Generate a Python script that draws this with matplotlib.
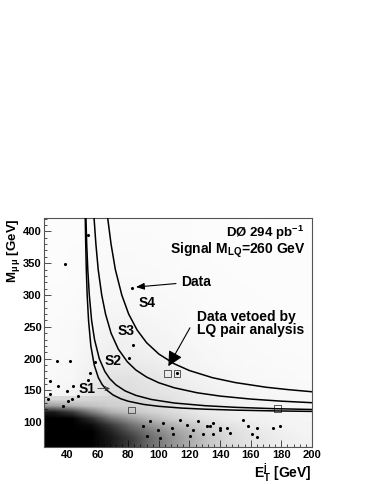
import numpy as np
import matplotlib
matplotlib.use("Agg")
import matplotlib.pyplot as plt
from matplotlib.colors import LinearSegmentedColormap

plt.rcParams['font.family'] = ['Liberation Sans', 'DejaVu Sans']
plt.rcParams['font.weight'] = 'bold'
plt.rcParams['mathtext.fontset'] = 'custom'
plt.rcParams['mathtext.rm'] = 'Liberation Sans:bold'
plt.rcParams['mathtext.it'] = 'Liberation Sans:bold'
plt.rcParams['mathtext.bf'] = 'Liberation Sans:bold'
plt.rcParams['mathtext.sf'] = 'Liberation Sans:bold'

# --- 2D densities: ET bins of 12.5 GeV from 25 to 200 ---
mc_extent = (25, 200, 60, 420)     # M bins of 20 GeV
data_extent = (25, 200, 60, 140)   # M bins of 10 GeV

# signal MC density (fraction of area covered), rows = M bins from low to high
mc_density = [
    [0.13, 0.13, 0.13, 0.16, 0.16, 0.14, 0.12, 0.10, 0.09, 0.08, 0.07, 0.06, 0.05, 0.05],
    [0.13, 0.14, 0.16, 0.18, 0.18, 0.16, 0.14, 0.12, 0.10, 0.09, 0.08, 0.07, 0.06, 0.05],
    [0.12, 0.14, 0.18, 0.22, 0.22, 0.20, 0.18, 0.15, 0.12, 0.10, 0.09, 0.08, 0.07, 0.06],
    [0.09, 0.12, 0.20, 0.24, 0.24, 0.22, 0.20, 0.17, 0.14, 0.11, 0.10, 0.09, 0.07, 0.06],
    [0.07, 0.09, 0.18, 0.22, 0.22, 0.20, 0.18, 0.15, 0.12, 0.10, 0.08, 0.07, 0.06, 0.05],
    [0.05, 0.07, 0.14, 0.20, 0.20, 0.18, 0.16, 0.12, 0.10, 0.08, 0.06, 0.05, 0.05, 0.04],
    [0.05, 0.06, 0.12, 0.16, 0.16, 0.15, 0.13, 0.10, 0.08, 0.06, 0.05, 0.05, 0.04, 0.04],
    [0.04, 0.05, 0.10, 0.13, 0.13, 0.12, 0.10, 0.09, 0.07, 0.05, 0.05, 0.04, 0.04, 0.03],
    [0.04, 0.05, 0.09, 0.11, 0.11, 0.10, 0.09, 0.07, 0.05, 0.05, 0.04, 0.04, 0.03, 0.03],
    [0.04, 0.05, 0.07, 0.10, 0.10, 0.09, 0.07, 0.05, 0.05, 0.04, 0.04, 0.03, 0.03, 0.03],
    [0.03, 0.04, 0.06, 0.08, 0.08, 0.07, 0.06, 0.05, 0.04, 0.04, 0.03, 0.03, 0.03, 0.02],
    [0.03, 0.04, 0.05, 0.07, 0.07, 0.06, 0.05, 0.05, 0.04, 0.03, 0.03, 0.03, 0.02, 0.02],
    [0.03, 0.03, 0.05, 0.06, 0.06, 0.05, 0.05, 0.04, 0.03, 0.03, 0.03, 0.02, 0.02, 0.02],
    [0.02, 0.03, 0.04, 0.05, 0.05, 0.05, 0.04, 0.04, 0.03, 0.03, 0.02, 0.02, 0.02, 0.02],
    [0.02, 0.03, 0.04, 0.05, 0.05, 0.04, 0.04, 0.03, 0.03, 0.02, 0.02, 0.02, 0.02, 0.02],
    [0.02, 0.03, 0.04, 0.04, 0.04, 0.04, 0.04, 0.03, 0.03, 0.02, 0.02, 0.02, 0.02, 0.02],
    [0.02, 0.02, 0.03, 0.04, 0.04, 0.04, 0.03, 0.03, 0.02, 0.02, 0.02, 0.02, 0.02, 0.01],
    [0.02, 0.02, 0.03, 0.03, 0.03, 0.03, 0.03, 0.03, 0.02, 0.02, 0.02, 0.01, 0.01, 0.01],
]

# data density in the Z peak region
data_density = [
    [1.00, 1.00, 1.00, 0.90, 0.75, 0.55, 0.42, 0.30, 0.20, 0.12, 0.08, 0.06, 0.04, 0.03],
    [1.00, 1.00, 1.00, 0.90, 0.75, 0.55, 0.42, 0.30, 0.20, 0.12, 0.08, 0.06, 0.04, 0.03],
    [1.00, 1.00, 1.00, 0.85, 0.65, 0.48, 0.36, 0.26, 0.16, 0.10, 0.07, 0.05, 0.03, 0.02],
    [1.00, 1.00, 0.95, 0.75, 0.52, 0.36, 0.26, 0.18, 0.11, 0.07, 0.05, 0.03, 0.02, 0.02],
    [1.00, 1.00, 0.80, 0.50, 0.32, 0.20, 0.12, 0.08, 0.05, 0.03, 0.02, 0.02, 0.01, 0.01],
    [0.90, 0.75, 0.45, 0.20, 0.12, 0.07, 0.05, 0.03, 0.02, 0.02, 0.01, 0.01, 0.01, 0.01],
    [0.35, 0.25, 0.14, 0.06, 0.04, 0.02, 0.02, 0.01, 0.01, 0.01, 0.00, 0.00, 0.00, 0.00],
    [0.12, 0.10, 0.06, 0.03, 0.02, 0.01, 0.01, 0.00, 0.00, 0.00, 0.00, 0.00, 0.00, 0.00],
]

# individual data events outside the dense region
data_et = [38.7, 53.9, 82.5, 83.3, 80.7, 42.0, 33.3, 58.3, 55.0, 54.0, 34.3, 29.0, 39.8,
           44.1, 47.4, 40.8, 27.8, 43.0, 37.6, 28.9, 112.0, 164.0, 160.6, 179.0, 174.7,
           164.0, 155.0, 158.4, 144.3, 140.0, 146.5, 133.4, 135.6,
           89.8, 94.2, 99.6, 102.9, 108.4, 113.8, 118.2, 122.5, 125.8, 131.2, 135.6,
           139.9, 92.1, 100.7, 109.4, 120.3, 129.0]
data_m = [348, 394, 311, 222, 201, 196, 196, 194, 178, 166, 157, 144, 149,
          157, 141, 133, 136, 136, 125, 165, 177, 91, 81, 94, 91,
          76, 104, 94, 91, 88, 83, 94, 81,
          93.7, 101.6, 88.5, 99, 91.2, 104.2, 96.4, 88.5, 101.6, 93.7, 99,
          91.2, 78, 75.5, 80.7, 78, 80.7]

# events vetoed by the LQ pair analysis
veto_et = [105.5, 112.0, 82.3, 177.4]
veto_m = [176.6, 176.6, 118.9, 121.5]

# selection boundaries S1..S4
s1_et = [51.95, 52.25, 52.64, 53.2, 54.1, 55.6, 57.8, 60.5, 63, 66, 70, 75, 80, 90, 100, 115, 130, 150, 175, 200]
s1_m = [421, 380, 340, 300, 260, 220, 190, 170, 159.2, 150.5, 143, 137, 133, 128, 125, 122.2, 120.5, 119, 117.8, 117]
s2_et = [52.4, 52.9, 53.6, 54.6, 56.1, 58.0, 61.1, 64.7, 68, 72, 78, 85, 95, 110, 130, 150, 175, 200]
s2_m = [421, 380, 340, 300, 260, 230, 200, 180, 168.3, 158.7, 149.2, 142.2, 135.8, 130.2, 126, 123.4, 121.3, 120]
s3_et = [57.7, 58.9, 60.4, 62.7, 65.2, 68.8, 73.5, 79.4, 85, 92, 100, 110, 125, 140, 160, 180, 200]
s3_m = [421, 380, 340, 300, 270, 240, 215, 195, 182.1, 171, 162, 154.2, 146.3, 141.1, 136.4, 133.1, 130.7]
s4_et = [66.6, 68.8, 71.6, 75.8, 80.3, 85.8, 92.0, 100, 110, 120, 135, 150, 170, 185, 200]
s4_m = [421, 380, 340, 300, 270, 245, 225, 207.2, 191.9, 181.2, 170, 162.3, 155, 151.1, 147.9]

fig = plt.figure(figsize=(3.74, 4.84), dpi=100)
ax = fig.add_axes([0.1176, 0.0764, 0.7166, 0.4731])

ax.imshow(np.array(mc_density), extent=mc_extent, origin='lower', aspect='auto',
          cmap='Greys', vmin=0, vmax=1, interpolation='bilinear', zorder=1)
black_alpha = LinearSegmentedColormap.from_list('black_alpha', [(0, 0, 0, 0), (0, 0, 0, 1)])
ax.imshow(np.array(data_density), extent=data_extent, origin='lower', aspect='auto',
          cmap=black_alpha, vmin=0, vmax=1, interpolation='bilinear', zorder=2)

ax.scatter(data_et, data_m, s=5, color='black', linewidths=0, zorder=4)
ax.scatter(veto_et, veto_m, s=22, marker='s', facecolors='none', edgecolors='#555555',
           linewidths=0.7, zorder=4)

for xs, ys in [(s1_et, s1_m), (s2_et, s2_m), (s3_et, s3_m), (s4_et, s4_m)]:
    ax.plot(xs, ys, color='black', lw=1.1, zorder=5)

ax.set_xlim(25, 200)
ax.set_ylim(61, 421)

ax.set_xticks([40, 60, 80, 100, 120, 140, 160, 180, 200])
ax.set_xticks(np.arange(28, 200, 4), minor=True)
ax.set_yticks([100, 150, 200, 250, 300, 350, 400])
ax.set_yticks(np.arange(70, 421, 10), minor=True)
ax.tick_params(which='both', direction='in', top=False, right=False, color='#333333', width=0.6)
ax.tick_params(which='major', length=5, labelsize=8, pad=2)
ax.tick_params(which='minor', length=2.5)
ax.tick_params(axis='y', pad=1.5)
for lab in ax.get_xticklabels() + ax.get_yticklabels():
    lab.set_fontweight('bold')
for sp in ax.spines.values():
    sp.set_color('#555555')
    sp.set_linewidth(0.8)

# labels
fig.text(13.5 / 374, 1 - 218 / 484, r'M$_{\mu\,\mu}$ [GeV]', rotation=90, ha='center', va='top',
         fontsize=9.5, fontweight='bold')
fig.text(312 / 374, 1 - 473 / 484, r'E$_{T}^{j}$ [GeV]', ha='right', va='center',
         fontsize=10, fontweight='bold')

ax.text(194.8, 398.3, r'DØ 294 pb$^{-1}$', ha='right', va='center', fontsize=9.5, zorder=6)
ax.text(196.1, 369.5, r'Signal M$_{\mathrm{LQ}}$=260 GeV', ha='right', va='center', fontsize=10, zorder=6)
ax.text(114.5, 319.7, 'Data', ha='left', va='center', fontsize=10, zorder=6)
ax.text(124.9, 255.5, 'Data vetoed by\nLQ pair analysis', ha='left', va='center',
        fontsize=10, linespacing=0.95, zorder=6)

for name, x, y in [('S1', 53.3, 153), ('S2', 70.2, 197), ('S3', 78.5, 243), ('S4', 92, 287.7)]:
    ax.text(x, y, name, ha='center', va='center', fontsize=10, zorder=6)

ax.annotate('', xy=(85, 312.5), xytext=(111.2, 318),
            arrowprops=dict(arrowstyle='-|>,head_length=0.5,head_width=0.2', color='black',
                            lw=0.8, shrinkA=0, shrinkB=0), zorder=6)
ax.annotate('', xy=(106.2, 188), xytext=(120.3, 248.4),
            arrowprops=dict(arrowstyle='-|>,head_length=0.9,head_width=0.45', color='black',
                            lw=0.8, shrinkA=0, shrinkB=0), zorder=6)
ax.annotate('', xy=(68.1, 152.9), xytext=(60.2, 152.9),
            arrowprops=dict(arrowstyle='->,head_length=0.3,head_width=0.15', color='#333333',
                            lw=0.6, shrinkA=0, shrinkB=0), zorder=6)

fig.savefig('out.png', dpi=100)
